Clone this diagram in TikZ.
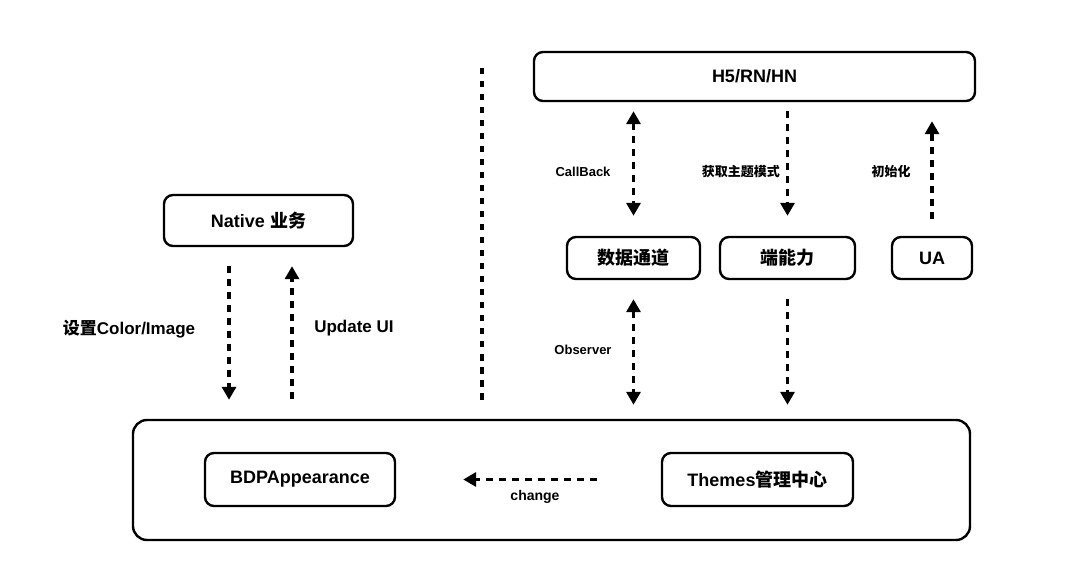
\documentclass[tikz,border=0pt]{standalone}
\usepackage{fontspec}
\setmainfont{Liberation Sans}
\newfontfamily\cjk{Noto Sans CJK SC}
\usetikzlibrary{arrows.meta}
\tikzset{
  box/.style={draw=black, line width=2.4pt, rounded corners=9pt, fill=white, inner sep=0pt,
    font=\fontsize{18}{21}\selectfont\bfseries},
  lbl/.style={font=\fontsize{13}{15}\selectfont\bfseries, inner sep=0pt},
  biglbl/.style={font=\fontsize{17}{20}\selectfont\bfseries, inner sep=0pt},
  dl/.style={line width=3.6pt, dash pattern=on 6.5pt off 6.5pt},
  tip/.style={-{Triangle[width=14pt,length=13pt]}},
  bitip/.style={{Triangle[width=14pt,length=13pt]}-{Triangle[width=14pt,length=13pt]}},
}
\begin{document}
\begin{tikzpicture}[x=1pt,y=-1pt]
\fill[white] (0,0) rectangle (1080,588);
\useasboundingbox (0,0) rectangle (1080,588);

% boxes
\node[box, minimum width=441pt, minimum height=49pt] (h5) at (754.5,76.5) {H5/RN/HN};
\node[box, minimum width=189pt, minimum height=51pt] (native) at (258.5,220.5) {Native {\cjk\bfseries 业务}};
\node[box, minimum width=133pt, minimum height=42pt] (data) at (633.5,258) {\cjk\bfseries 数据通道};
\node[box, minimum width=135pt, minimum height=42pt] (cap) at (787.5,258) {\cjk\bfseries 端能力};
\node[box, minimum width=80pt, minimum height=42pt] (ua) at (932,258) {UA};
\node[box, rounded corners=14pt, minimum width=837pt, minimum height=120pt] (big) at (551.5,480) {};
\node[box, minimum width=190pt, minimum height=53pt] (bdp) at (300,479.5) {BDPAppearance};
\node[box, minimum width=191pt, minimum height=53pt] (themes) at (757.5,479.5) {Themes{\cjk\bfseries 管理中心}};

% divider
\coordinate (divtop) at (482,68);
\coordinate (divbot) at (482,402);
\draw[line width=3.4pt, dash pattern=on 6.5pt off 6.5pt] (divtop) -- (divbot);

% H5 <-> data
\draw[dl, bitip, shorten <=9pt, shorten >=20pt] (data.north |- h5.south) -- (data.north);
\node[lbl] (lcb) at (583,172) {CallBack};
% H5 -> cap
\draw[dl, tip, shorten <=9pt, shorten >=20pt] (cap.north |- h5.south) -- (cap.north);
\node[lbl, anchor=east] (lget) at (780,172) {\cjk\bfseries 获取主题模式};
% UA -> H5
\draw[dl, tip, shorten <=17pt, shorten >=19pt] (ua.north) -- (ua.north |- h5.south);
\node[lbl] (linit) at (891,172) {\cjk\bfseries 初始化};

% data <-> big
\draw[dl, bitip, shorten <=19pt, shorten >=14pt] (data.south) -- (data.south |- big.north);
\node[lbl] (lobs) at (583,350) {Observer};
% cap -> big
\draw[dl, tip, shorten <=19pt, shorten >=14pt] (cap.south) -- (cap.south |- big.north);

% native <-> big
\draw[dl, tip, shorten <=19pt, shorten >=19pt] ([xshift=-29.5pt]native.south) -- ([xshift=-29.5pt]native.south |- big.north);
\node[biglbl] (lset) at (129,329) {{\cjk\bfseries 设置}Color/Image};
\draw[dl, tip, shorten <=20pt, shorten >=19pt] ([xshift=33.5pt]native.south |- big.north) -- ([xshift=33.5pt]native.south);
\node[biglbl] (lupd) at (354,328) {Update UI};

% themes -> bdp
\draw[dl, tip, shorten <=64pt, shorten >=67pt] (themes.west) -- (bdp.east);
\node[lbl, font=\fontsize{14}{16}\selectfont\bfseries] (lchg) at (535,497) {change};
\end{tikzpicture}
\end{document}
